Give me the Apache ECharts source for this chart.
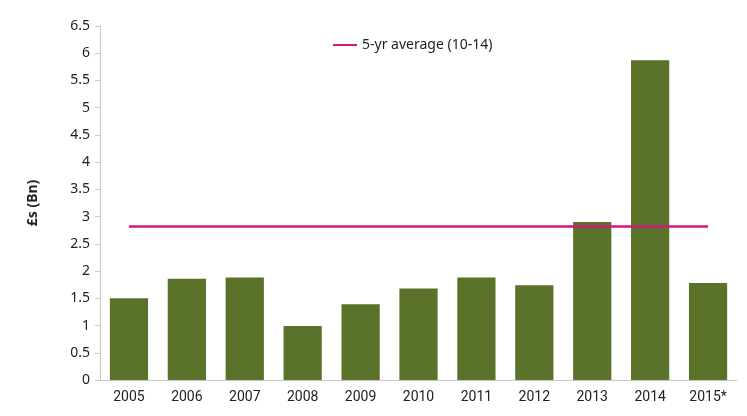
<!DOCTYPE html>
<html>
<head>
<meta charset="utf-8">
<script src="https://cdn.jsdelivr.net/npm/echarts@6/dist/echarts.min.js"></script>
<style>
  html, body { margin: 0; padding: 0; background: #fff; }
  #chart { width: 747px; height: 416px; }
</style>
</head>
<body>
<div id="chart"></div>
<script>
// years along the bottom
var years = ['2005', '2006', '2007', '2008', '2009', '2010', '2011', '2012', '2013', '2014', '2015*'];
// £ billions per year
var amounts = [1.50, 1.86, 1.88, 0.99, 1.39, 1.68, 1.88, 1.74, 2.90, 5.87, 1.78];
// 5-yr average (2010-14), same for every category
var avgValue = 2.82;
var avgLine = years.map(function() { return avgValue; });

var myChart = echarts.init(document.getElementById('chart'));
var option = {
    animation: false,
    textStyle: { fontFamily: 'Noto Sans', color: '#222' },
    legend: {
        top: 33,
        left: 328,
        itemWidth: 24,
        itemHeight: 2,
        itemGap: 3,
        textStyle: { fontSize: 14, color: '#222', fontFamily: 'Noto Sans' },
        data: [{ name: '5-yr average (10-14)', icon: 'rect' }]
    },
    grid: {
        left: 100,
        right: 10,
        top: 26,
        bottom: 36
    },
    xAxis: {
        type: 'category',
        data: years,
        axisLine: { lineStyle: { color: '#c8c8c8', width: 1 } },
        axisTick: { show: false },
        axisLabel: {
            fontSize: 14,
            color: '#222',
            margin: 10,
            fontFamily: 'Roboto'
        }
    },
    yAxis: {
        type: 'value',
        min: 0,
        max: 6.5,
        interval: 0.5,
        name: '£s (Bn)',
        nameLocation: 'middle',
        nameGap: 60,
        nameTextStyle: { fontSize: 14, fontWeight: 'bold', color: '#222' },
        axisLine: { show: true, lineStyle: { color: '#c8c8c8' } },
        axisTick: { show: true, length: 5, lineStyle: { color: '#c8c8c8' } },
        splitLine: { show: false },
        axisLabel: { fontSize: 14, color: '#222', margin: 10 }
    },
    series: [
        {
            name: 'amount',
            type: 'bar',
            data: amounts,
            barCategoryGap: '34%',
            itemStyle: { color: '#5a7229' }
        },
        {
            name: '5-yr average (10-14)',
            type: 'line',
            data: avgLine,
            symbol: 'none',
            lineStyle: { color: '#d0197c', width: 2.5 },
            itemStyle: { color: '#d0197c' },
            z: 5
        }
    ]
};
myChart.setOption(option);
</script>
</body>
</html>
